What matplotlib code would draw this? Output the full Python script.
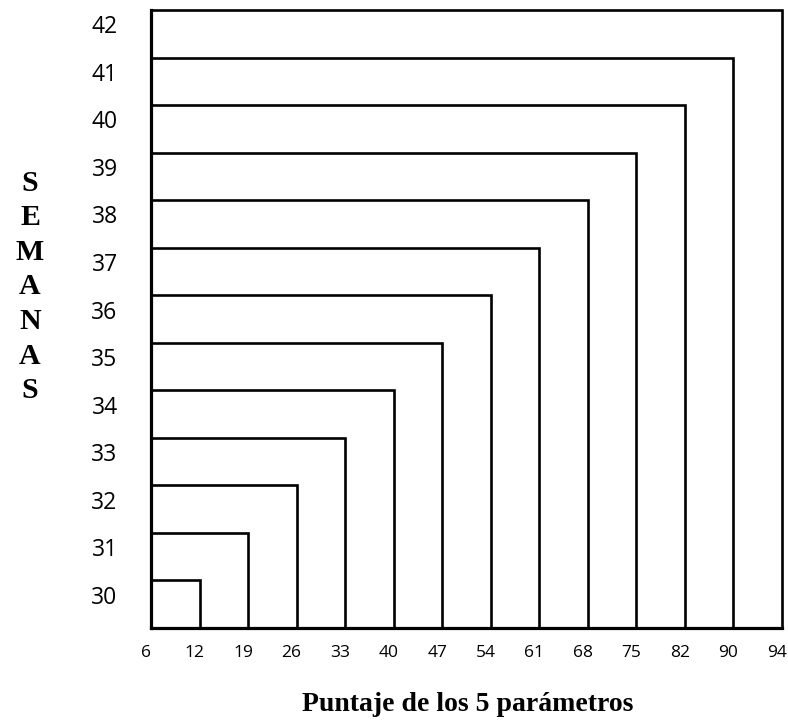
import matplotlib
matplotlib.use("Agg")
import matplotlib.pyplot as plt
import matplotlib.transforms as mtransforms

# Data
score_ticks = [6, 12, 19, 26, 33, 40, 47, 54, 61, 68, 75, 82, 90, 94]
weeks = [30, 31, 32, 33, 34, 35, 36, 37, 38, 39, 40, 41, 42]
week_scores = [12, 19, 26, 33, 40, 47, 54, 61, 68, 75, 82, 90, 94]

fig = plt.figure(figsize=(7.88, 7.22), dpi=100)
ax = fig.add_axes([0.1916, 0.1302, 0.8008, 0.8559])

base = weeks[0] - 1
x_of = {s: i for i, s in enumerate(score_ticks)}

for w, s in zip(weeks, week_scores):
    xi = x_of[s]
    ax.plot([0, xi, xi], [w, w, base], color="black", lw=1.9,
            solid_joinstyle="miter", solid_capstyle="projecting", clip_on=False)

ax.set_xlim(0, len(score_ticks) - 1)
ax.set_ylim(base, weeks[-1])

for side in ["top", "right"]:
    ax.spines[side].set_visible(False)
for side in ["left", "bottom"]:
    ax.spines[side].set_linewidth(2.3)
    ax.spines[side].set_color("black")

ax.set_xticks(range(len(score_ticks)))
ax.set_xticklabels([str(v) for v in score_ticks], fontfamily="Open Sans", fontsize=12.5)
ax.set_yticks([w - 0.3 for w in weeks])
ax.set_yticklabels([str(w) for w in weeks], fontfamily="Open Sans", fontsize=16.5)
ax.tick_params(axis="x", length=0, pad=12)
ax.tick_params(axis="y", length=0, pad=24)

shift = mtransforms.ScaledTranslation(-5 / 100, 0, fig.dpi_scale_trans)
for lab in ax.get_xticklabels():
    lab.set_transform(lab.get_transform() + shift)

fig.text(0.038, 0.6025, "\n".join("SEMANAS"), ha="center", va="center",
         fontfamily="Liberation Serif", fontweight="bold", fontsize=21.5,
         linespacing=1.36)
fig.text(0.594, 0.024, "Puntaje de los 5 parámetros", ha="center", va="center",
         fontfamily="Liberation Serif", fontweight="bold", fontsize=20)

fig.savefig("out.png", dpi=100)
